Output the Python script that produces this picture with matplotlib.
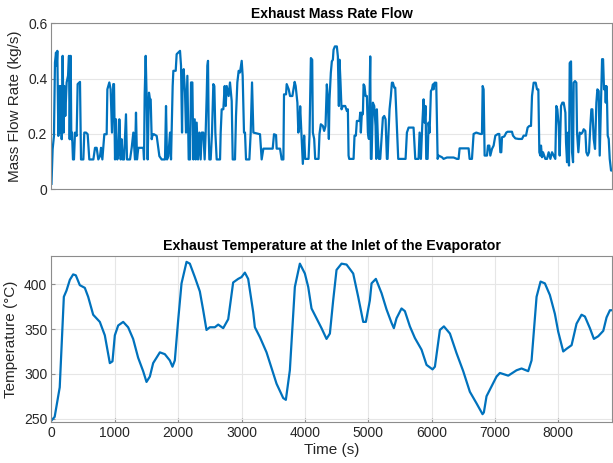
import matplotlib.pyplot as plt

plt.rcParams['font.family'] = ['Liberation Sans', 'DejaVu Sans']

# exhaust mass flow rate (kg/s) vs time (s)
flow_t = [0, 18, 39, 55, 71, 82, 92, 108, 124, 134, 150, 161, 176, 192, 203, 218, 239, 261, 276, 287,
          303, 313, 324, 339, 355, 371, 397, 413, 450, 466, 503, 518, 545, 571, 597, 661, 687, 713, 739, 766,
          782, 803, 834, 871, 882, 913, 934, 955, 976, 987, 1003, 1018, 1039, 1061, 1071, 1092, 1108, 1124, 1145, 1176,
          1192, 1240, 1266, 1292, 1318, 1334, 1350, 1371, 1450, 1461, 1471, 1487, 1503, 1518, 1539, 1555, 1566, 1582, 1597, 1618,
          1661, 1703, 1739, 1792, 1808, 1824, 1845, 1871, 1887, 1897, 1913, 1924, 1961, 1976, 2003, 2029, 2045, 2061, 2071, 2087,
          2108, 2124, 2145, 2166, 2187, 2203, 2224, 2240, 2261, 2277, 2292, 2313, 2334, 2355, 2371, 2397, 2418, 2434, 2450, 2461,
          2471, 2482, 2492, 2513, 2534, 2555, 2571, 2587, 2608, 2661, 2671, 2687, 2713, 2734, 2750, 2766, 2797, 2818, 2845, 2861,
          2897, 2913, 2934, 2955, 2976, 3003, 3018, 3039, 3055, 3071, 3124, 3145, 3166, 3187, 3292, 3318, 3345, 3492, 3513, 3545,
          3555, 3608, 3634, 3661, 3671, 3703, 3713, 3745, 3766, 3803, 3839, 3855, 3882, 3897, 3913, 3926, 3952, 3968, 3989, 4005,
          4058, 4073, 4095, 4116, 4126, 4147, 4163, 4216, 4231, 4252, 4284, 4305, 4326, 4347, 4363, 4379, 4389, 4410, 4426, 4442,
          4453, 4474, 4505, 4521, 4537, 4547, 4563, 4579, 4600, 4637, 4663, 4679, 4690, 4700, 4769, 4784, 4805, 4821, 4863, 4874,
          4884, 4900, 4916, 4927, 4942, 4958, 4979, 4995, 5011, 5021, 5032, 5042, 5053, 5074, 5095, 5116, 5127, 5137, 5153, 5169,
          5190, 5216, 5232, 5253, 5274, 5295, 5306, 5321, 5337, 5358, 5374, 5390, 5411, 5427, 5453, 5474, 5590, 5611, 5638, 5716,
          5743, 5795, 5811, 5832, 5853, 5874, 5890, 5906, 5916, 5938, 5953, 5969, 5990, 6006, 6022, 6032, 6048, 6074, 6096, 6111,
          6164, 6190, 6243, 6348, 6401, 6427, 6443, 6585, 6601, 6638, 6664, 6706, 6770, 6796, 6807, 6822, 6838, 6875, 6891, 6912,
          6928, 6954, 6980, 7007, 7049, 7070, 7086, 7101, 7112, 7149, 7180, 7202, 7270, 7286, 7323, 7375, 7428, 7454, 7491, 7517,
          7544, 7570, 7586, 7612, 7644, 7665, 7686, 7702, 7718, 7728, 7744, 7760, 7796, 7823, 7849, 7876, 7902, 7928, 7954, 7970,
          7986, 8007, 8023, 8044, 8065, 8086, 8113, 8123, 8139, 8155, 8170, 8181, 8202, 8218, 8234, 8244, 8265, 8286, 8297, 8318,
          8339, 8360, 8381, 8402, 8428, 8444, 8465, 8486, 8507, 8523, 8539, 8560, 8581, 8602, 8618, 8639, 8655, 8676, 8692, 8708,
          8723, 8739, 8750, 8760, 8771, 8781, 8797, 8813, 8834, 8855]
flow_v = [0.02, 0.145, 0.193, 0.458, 0.494, 0.446, 0.5, 0.193, 0.373, 0.205, 0.373, 0.181, 0.482, 0.205, 0.373, 0.265, 0.386, 0.41, 0.482, 0.181,
          0.482, 0.181, 0.205, 0.108, 0.108, 0.205, 0.193, 0.38, 0.388, 0.108, 0.108, 0.205, 0.205, 0.199, 0.108, 0.108, 0.15, 0.15, 0.108, 0.12,
          0.15, 0.108, 0.199, 0.199, 0.361, 0.386, 0.361, 0.205, 0.38, 0.38, 0.108, 0.253, 0.108, 0.133, 0.253, 0.108, 0.181, 0.108, 0.108, 0.271,
          0.108, 0.108, 0.15, 0.205, 0.108, 0.277, 0.108, 0.15, 0.15, 0.108, 0.343, 0.482, 0.325, 0.108, 0.349, 0.325, 0.325, 0.181, 0.199, 0.199,
          0.193, 0.12, 0.108, 0.108, 0.301, 0.108, 0.12, 0.205, 0.108, 0.205, 0.373, 0.428, 0.428, 0.488, 0.494, 0.5, 0.446, 0.205, 0.398, 0.434,
          0.349, 0.205, 0.41, 0.108, 0.108, 0.386, 0.386, 0.108, 0.253, 0.108, 0.241, 0.108, 0.205, 0.108, 0.205, 0.205, 0.108, 0.205, 0.337, 0.446,
          0.464, 0.205, 0.108, 0.108, 0.205, 0.38, 0.373, 0.205, 0.108, 0.108, 0.205, 0.289, 0.289, 0.373, 0.301, 0.373, 0.337, 0.386, 0.319, 0.108,
          0.108, 0.265, 0.386, 0.428, 0.422, 0.464, 0.41, 0.205, 0.205, 0.108, 0.108, 0.205, 0.386, 0.205, 0.199, 0.108, 0.147, 0.147, 0.199, 0.196,
          0.147, 0.147, 0.108, 0.108, 0.343, 0.343, 0.38, 0.361, 0.337, 0.337, 0.388, 0.373, 0.313, 0.205, 0.229, 0.3, 0.17, 0.092, 0.194, 0.11,
          0.11, 0.194, 0.474, 0.468, 0.205, 0.182, 0.11, 0.11, 0.2, 0.235, 0.229, 0.211, 0.229, 0.379, 0.325, 0.182, 0.325, 0.421, 0.462, 0.468,
          0.504, 0.516, 0.516, 0.48, 0.301, 0.468, 0.385, 0.289, 0.301, 0.301, 0.283, 0.289, 0.122, 0.11, 0.11, 0.194, 0.194, 0.247, 0.247, 0.277,
          0.205, 0.277, 0.271, 0.379, 0.373, 0.337, 0.337, 0.205, 0.182, 0.313, 0.48, 0.11, 0.11, 0.313, 0.301, 0.229, 0.11, 0.289, 0.182, 0.11,
          0.11, 0.2, 0.259, 0.265, 0.253, 0.11, 0.11, 0.205, 0.289, 0.337, 0.385, 0.385, 0.367, 0.367, 0.229, 0.11, 0.11, 0.205, 0.223, 0.223,
          0.11, 0.11, 0.205, 0.11, 0.229, 0.325, 0.241, 0.301, 0.11, 0.11, 0.241, 0.205, 0.355, 0.361, 0.379, 0.361, 0.385, 0.385, 0.11, 0.122,
          0.116, 0.11, 0.115, 0.115, 0.11, 0.11, 0.148, 0.148, 0.11, 0.11, 0.2, 0.205, 0.2, 0.2, 0.373, 0.361, 0.122, 0.122, 0.158, 0.158,
          0.122, 0.146, 0.158, 0.194, 0.2, 0.2, 0.134, 0.134, 0.188, 0.191, 0.205, 0.208, 0.208, 0.194, 0.184, 0.182, 0.182, 0.194, 0.194, 0.223,
          0.229, 0.229, 0.337, 0.385, 0.385, 0.361, 0.361, 0.134, 0.122, 0.158, 0.116, 0.134, 0.11, 0.11, 0.134, 0.11, 0.134, 0.122, 0.11, 0.301,
          0.289, 0.229, 0.122, 0.301, 0.313, 0.313, 0.277, 0.17, 0.098, 0.205, 0.086, 0.456, 0.462, 0.134, 0.098, 0.385, 0.391, 0.385, 0.205, 0.134,
          0.205, 0.2, 0.205, 0.217, 0.211, 0.134, 0.122, 0.134, 0.229, 0.289, 0.289, 0.182, 0.146, 0.313, 0.361, 0.355, 0.122, 0.325, 0.47, 0.47,
          0.361, 0.373, 0.313, 0.373, 0.313, 0.194, 0.182, 0.11, 0.068, 0.068]

# exhaust temperature at evaporator inlet (degC) vs time (s)
temp_t = [0, 50, 130, 195, 237, 290, 342, 384, 447, 526, 579, 658, 763, 842, 921, 963, 1000, 1053, 1132, 1210,
          1289, 1368, 1447, 1500, 1553, 1605, 1711, 1789, 1868, 1910, 1947, 2000, 2053, 2132, 2184, 2263, 2342, 2395, 2447, 2500,
          2579, 2632, 2711, 2790, 2868, 2947, 3000, 3053, 3105, 3184, 3211, 3290, 3395, 3553, 3658, 3700, 3763, 3842, 3921, 4000,
          4053, 4105, 4184, 4263, 4342, 4395, 4447, 4500, 4579, 4658, 4763, 4842, 4921, 4963, 5026, 5053, 5121, 5211, 5289, 5368,
          5405, 5447, 5526, 5579, 5658, 5737, 5842, 5921, 6016, 6053, 6132, 6195, 6290, 6395, 6500, 6605, 6711, 6805, 6826, 6868,
          6947, 7026, 7079, 7211, 7342, 7421, 7526, 7579, 7658, 7721, 7789, 7868, 7947, 8000, 8079, 8132, 8211, 8289, 8368, 8421,
          8500, 8563, 8632, 8711, 8763, 8816, 8855]
temp_v = [248, 252, 285, 386, 393, 405, 411, 410, 399, 396, 386, 366, 358, 343, 312, 314, 343, 354, 358, 352,
          339, 318, 303, 291, 297, 312, 324, 322, 315, 308, 315, 360, 401, 425, 423, 408, 392, 371, 349, 352,
          352, 355, 351, 361, 402, 406, 408, 413, 406, 369, 352, 341, 324, 289, 273, 271, 304, 397, 423, 412,
          397, 373, 362, 351, 339, 345, 382, 416, 423, 422, 412, 386, 358, 358, 382, 401, 406, 390, 372, 357,
          351, 362, 373, 370, 353, 340, 327, 310, 305, 308, 349, 353, 345, 323, 303, 280, 267, 255, 257, 275,
          286, 297, 301, 298, 304, 306, 303, 315, 386, 403, 401, 388, 367, 347, 325, 328, 332, 356, 366, 364,
          351, 339, 342, 348, 363, 371, 371]

blue = '#0072BD'
edge = '#8c8c8c'
txt = '#262626'

fig = plt.figure(figsize=(6.13, 4.63), dpi=100)

#Top plot - mass flow
ax1 = fig.add_axes([0.084, 0.591, 0.915, 0.359])
ax1.plot(flow_t, flow_v, color=blue, linewidth=1.6)
ax1.set_xlim(0, 8855)
ax1.set_ylim(0, 0.6)
ax1.set_xticks([])
ax1.set_yticks([0, 0.2, 0.4, 0.6])
ax1.set_yticklabels(['0', '0.2', '0.4', '0.6'])
ax1.set_ylabel('Mass Flow Rate (kg/s)', fontsize=11, color=txt)
ax1.set_title('Exhaust Mass Rate Flow', fontsize=10, fontweight='bold', pad=4)
ax1.grid(axis='y', color='#e6e6e6', linewidth=0.8)

#Bottom plot - temperature
ax2 = fig.add_axes([0.084, 0.089, 0.915, 0.358])
ax2.plot(temp_t, temp_v, color=blue, linewidth=1.6)
ax2.set_xlim(0, 8855)
ax2.set_ylim(246.5, 431.5)
ax2.set_xticks([0, 1000, 2000, 3000, 4000, 5000, 6000, 7000, 8000])
ax2.set_yticks([250, 300, 350, 400])
ax2.set_xlabel('Time (s)', fontsize=11, color=txt, labelpad=2)
ax2.set_ylabel('Temperature (°C)', fontsize=11, color=txt)
ax2.set_title('Exhaust Temperature at the Inlet of the Evaporator', fontsize=10.2, fontweight='bold', pad=4)
ax2.grid(color='#e6e6e6', linewidth=0.8)

for ax in (ax1, ax2):
    ax.set_axisbelow(True)
    for s in ax.spines.values():
        s.set_color(edge)
        s.set_linewidth(0.8)
    ax.tick_params(direction='in', length=3, color=edge, labelcolor=txt, labelsize=10, pad=3)

fig.savefig('out.png', dpi=100)
